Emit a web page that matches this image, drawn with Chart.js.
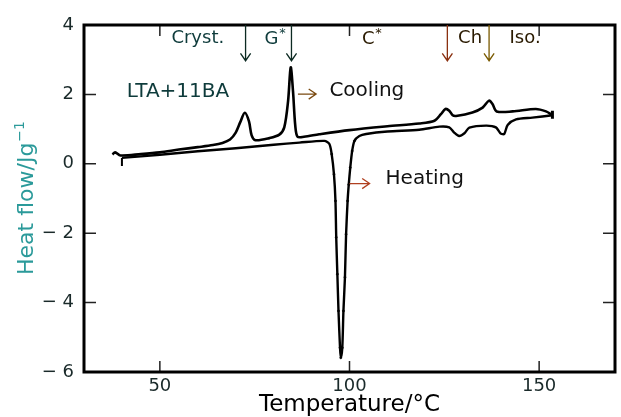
<!DOCTYPE html>
<html>
<head>
<meta charset="utf-8">
<script src="https://cdn.jsdelivr.net/npm/chart.js@4.4.1/dist/chart.umd.min.js"></script>
<style>
  html, body { margin: 0; padding: 0; background: #fff; }
  #wrap { width: 621px; height: 417px; position: relative; }
</style>
</head>
<body>
<div id="wrap"><canvas id="grafico"></canvas></div>
<script>
// curva de resfriamento (superior)
const coolT = [37.5, 38.2, 39.6, 45, 50, 55, 60, 64, 66.5, 68.5, 70, 71.2, 72.4, 73.5, 74.2, 75.2, 78.9, 81.5, 82.8, 83.8, 84.5, 85.1, 85.7, 86.3, 88, 92, 100, 110, 118.4, 122.4, 124.1, 125.3, 126.3, 127.2, 128.1, 132.4, 135.1, 136.8, 137.7, 138.8, 143, 149.1, 151.8, 153.5];
const coolHF = [0.27, 0.33, 0.24, 0.28, 0.33, 0.41, 0.48, 0.54, 0.6, 0.7, 0.9, 1.2, 1.47, 1.22, 0.82, 0.68, 0.74, 0.84, 1.05, 1.8, 2.78, 2.1, 1.1, 0.78, 0.78, 0.85, 0.97, 1.08, 1.16, 1.24, 1.43, 1.58, 1.53, 1.4, 1.38, 1.48, 1.62, 1.82, 1.72, 1.51, 1.51, 1.58, 1.51, 1.4];

// curva de aquecimento (inferior)
const heatT = [40, 50, 60, 70, 80, 86.8, 93.4, 94.7, 95.3, 95.9, 96.3, 96.5, 96.8, 97.1, 97.5, 97.7, 98.1, 98.4, 98.8, 99.1, 99.5, 99.8, 100.2, 100.7, 101.3, 102.6, 104.4, 110, 118.4, 123.7, 126.3, 127.6, 128.9, 130.3, 131.6, 136, 138.6, 139.9, 140.8, 141.7, 143.9, 148.2, 153.5];
const heatHF = [0.17, 0.26, 0.36, 0.45, 0.55, 0.61, 0.66, 0.57, 0.28, -0.3, -1.07, -2.12, -3.18, -4.24, -5.3, -5.59, -5.3, -4.24, -3.27, -2.03, -1.07, -0.6, -0.11, 0.37, 0.66, 0.8, 0.86, 0.93, 0.98, 1.07, 1.05, 0.9, 0.8, 0.88, 1.04, 1.1, 1.05, 0.87, 0.86, 1.12, 1.28, 1.33, 1.4];

// marcas verticais nas pontas
const startTickT = [40, 40];
const startTickHF = [0.17, -0.06];
const endTickT = [153.5, 153.5];
const endTickHF = [1.53, 1.3];

const xTicks = [50, 100, 150];
const yTicks = [-6, -4, -2, 0, 2, 4];

// transições de fase (setas no topo)
const fases = ['Cryst.', 'G*', 'C*', 'Ch', 'Iso.'];
const fasesLabelT = [60, 80.5, 106, 131.8, 146.3];
const setasT = [72.6, 84.7, 125.8, 136.8];

const fonte = "'DejaVu Sans', sans-serif";

function pontos(xs, ys) {
  return xs.map((x, i) => ({ x: x, y: ys[i] }));
}

function seta(ctx, x1, y1, x2, y2, cor) {
  const ang = Math.atan2(y2 - y1, x2 - x1);
  const h = 9;
  ctx.save();
  ctx.strokeStyle = cor;
  ctx.lineWidth = 1.3;
  ctx.beginPath();
  ctx.moveTo(x1, y1);
  ctx.lineTo(x2, y2);
  ctx.moveTo(x2 - h * Math.cos(ang - 0.6), y2 - h * Math.sin(ang - 0.6));
  ctx.lineTo(x2, y2);
  ctx.lineTo(x2 - h * Math.cos(ang + 0.6), y2 - h * Math.sin(ang + 0.6));
  ctx.stroke();
  ctx.restore();
}

const moldura = {
  id: 'moldura',
  afterDraw(chart) {
    const ctx = chart.ctx;
    const a = chart.chartArea;
    const sx = chart.scales.x;
    const sy = chart.scales.y;

    ctx.save();
    // ticks internos
    ctx.lineWidth = 1.5;
    ctx.strokeStyle = '#222';
    xTicks.forEach(v => {
      const px = sx.getPixelForValue(v);
      ctx.beginPath();
      ctx.moveTo(px, a.bottom); ctx.lineTo(px, a.bottom - 11);
      ctx.moveTo(px, a.top); ctx.lineTo(px, a.top + 11);
      ctx.stroke();
    });
    yTicks.slice(1, -1).forEach(v => {
      const py = sy.getPixelForValue(v);
      ctx.beginPath();
      ctx.moveTo(a.left, py); ctx.lineTo(a.left + 12, py);
      ctx.moveTo(a.right, py); ctx.lineTo(a.right - 12, py);
      ctx.stroke();
    });

    // moldura
    ctx.lineWidth = 3;
    ctx.strokeStyle = '#000';
    ctx.strokeRect(a.left, a.top, a.right - a.left, a.bottom - a.top);

    // título do eixo y com expoente
    ctx.save();
    ctx.translate(33, 275);
    ctx.rotate(-Math.PI / 2);
    ctx.fillStyle = '#2b9a9a';
    ctx.textAlign = 'left';
    ctx.textBaseline = 'alphabetic';
    ctx.font = '22px ' + fonte;
    const tit = 'Heat flow/Jg';
    ctx.fillText(tit, 0, 0);
    const wt = ctx.measureText(tit).width;
    ctx.font = '14px ' + fonte;
    ctx.fillText('\u22121', wt + 1, -9);
    ctx.restore();

    // setas das fases
    const coresSeta = ['#0c2a22', '#0c2a22', '#8a3010', '#7a5a00'];
    const yBase = sy.getPixelForValue(2.97);
    setasT.forEach((t, i) => {
      const px = sx.getPixelForValue(t);
      seta(ctx, px, a.top, px, yBase, coresSeta[i]);
    });

    // rótulos das fases
    ctx.font = '18px ' + fonte;
    ctx.textAlign = 'center';
    ctx.textBaseline = 'middle';
    const coresFase = ['#0e3b3b', '#0e3b3b', '#2a1a00', '#2a1a00', '#2a1a00'];
    fases.forEach((f, i) => {
      ctx.fillStyle = coresFase[i];
      const px = sx.getPixelForValue(fasesLabelT[i]);
      const py = sy.getPixelForValue(3.63);
      if (f.endsWith('*')) {
        const base = f.slice(0, -1);
        const w = ctx.measureText(base).width;
        ctx.fillText(base, px - 4, py + 1);
        ctx.font = '13px ' + fonte;
        ctx.fillText('*', px - 4 + w / 2 + 4, py - 4);
        ctx.font = '18px ' + fonte;
      } else {
        ctx.fillText(f, px, py);
      }
    });

    // amostra e legendas das curvas
    ctx.font = '20px ' + fonte;
    ctx.textAlign = 'left';
    ctx.fillStyle = '#0e3b3b';
    ctx.fillText('LTA+11BA', sx.getPixelForValue(41.3), sy.getPixelForValue(2.08));
    ctx.fillStyle = '#111';
    ctx.fillText('Cooling', sx.getPixelForValue(94.7), sy.getPixelForValue(2.1));
    ctx.fillText('Heating', sx.getPixelForValue(109.5), sy.getPixelForValue(-0.42));

    const yc = sy.getPixelForValue(2.01);
    seta(ctx, sx.getPixelForValue(86.4), yc, sx.getPixelForValue(91.2), yc, '#7a4a10');
    const yh = sy.getPixelForValue(-0.57);
    seta(ctx, sx.getPixelForValue(100), yh, sx.getPixelForValue(105.3), yh, '#b04020');
    ctx.restore();
  }
};

new Chart(document.getElementById('grafico'), {
  type: 'line',
  data: {
    datasets: [
      {
        label: 'Cooling',
        data: pontos(coolT, coolHF),
        borderColor: '#000',
        borderWidth: 2.6,
        pointRadius: 0,
        tension: 0.3
      },
      {
        label: 'Heating',
        data: pontos(heatT, heatHF),
        borderColor: '#000',
        borderWidth: 2.4,
        pointRadius: ctx => {
          const p = ctx.raw;
          return p && p.x > 95 && p.x < 101.5 ? 1.1 : 0;
        },
        pointBackgroundColor: '#000',
        pointBorderColor: '#000',
        pointBorderWidth: 0.5,
        tension: 0.25
      },
      {
        data: pontos(startTickT, startTickHF),
        borderColor: '#000',
        borderWidth: 2,
        pointRadius: 0
      },
      {
        data: pontos(endTickT, endTickHF),
        borderColor: '#000',
        borderWidth: 3,
        pointRadius: 0
      }
    ]
  },
  options: {
    responsive: true,
    maintainAspectRatio: false,
    animation: false,
    layout: { padding: { left: 0, right: 6, top: 25, bottom: 0 } },
    plugins: {
      legend: { display: false },
      tooltip: { enabled: false }
    },
    scales: {
      x: {
        type: 'linear',
        min: 30,
        max: 170,
        afterBuildTicks: s => { s.ticks = xTicks.map(v => ({ value: v })); },
        afterFit: s => { s.height = 45; },
        grid: { display: false, drawTicks: false },
        border: { display: false },
        ticks: { padding: 4, color: '#1a2a2a', font: { family: fonte, size: 18 } },
        title: {
          display: true,
          text: 'Temperature/°C',
          color: '#000',
          padding: 0,
          font: { family: fonte, size: 23, lineHeight: 1 }
        }
      },
      y: {
        min: -6,
        max: 4,
        afterBuildTicks: s => { s.ticks = yTicks.map(v => ({ value: v })); },
        afterFit: s => { s.width = 84; },
        grid: { display: false, drawTicks: false },
        border: { display: false },
        ticks: {
          padding: 10,
          color: '#1a2a2a',
          font: { family: fonte, size: 18 },
          callback: v => v < 0 ? '\u2212 ' + Math.abs(v) : String(v)
        },
        title: { display: false }
      }
    }
  },
  plugins: [moldura]
});
</script>
</body>
</html>
